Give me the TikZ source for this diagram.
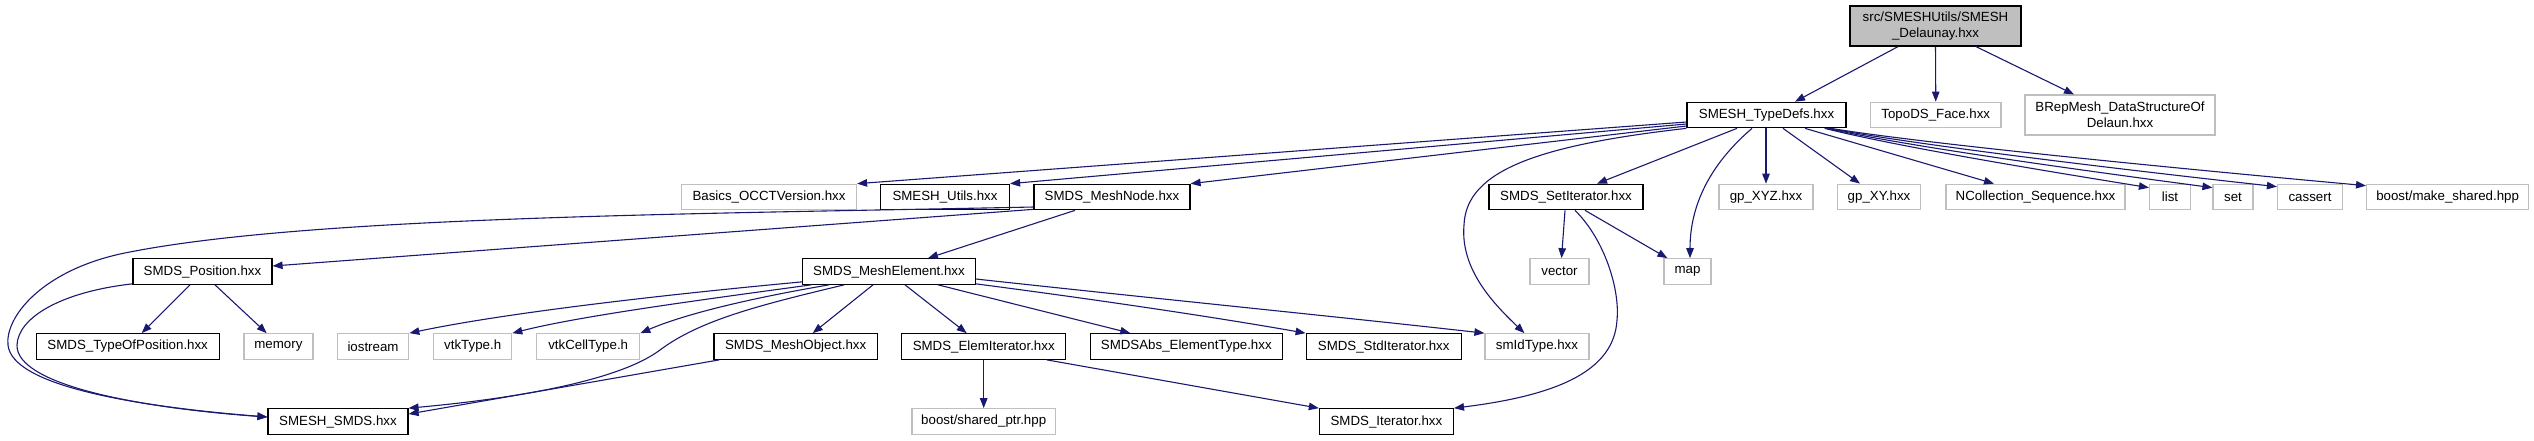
\documentclass[tikz,border=0pt]{standalone}
\usepackage{fontspec}
\setmainfont{Liberation Sans}
\usetikzlibrary{arrows.meta,calc}
\definecolor{edgec}{HTML}{191970}
\definecolor{greyb}{HTML}{BFBFBF}
\begin{document}
\begin{tikzpicture}[x=1pt,y=-1pt,
  box/.style={draw, rectangle, inner sep=0pt, minimum height=25.5pt, line width=1.2pt,
    font=\fontsize{13.3}{16}\selectfont, align=center},
  doc/.style={box, draw=black},
  ext/.style={box, draw=greyb},
  dep/.style={draw=edgec, line width=1.1pt, -{Triangle[length=10pt,width=7.5pt]}},
]
\useasboundingbox (0,0) rectangle (2534,440);
% row 0
\node[doc, fill=greyb, minimum width=171pt, minimum height=40pt] (root) at (1935.5,26) {src/SMESHUtils/SMESH\\\_Delaunay.hxx};
% row 1
\node[doc, minimum width=159pt] (td) at (1766.5,115) {SMESH\_TypeDefs.hxx};
\node[ext, minimum width=130.5pt] (topo) at (1935.75,115) {TopoDS\_Face.hxx};
\node[ext, minimum width=190pt, minimum height=40pt] (brep) at (2120,115) {BRepMesh\_DataStructureOf\\Delaun.hxx};
% row 2
\node[ext, minimum width=175pt] (basics) at (769,197) {Basics\_OCCTVersion.hxx};
\node[doc, minimum width=129pt] (utils) at (945,197) {SMESH\_Utils.hxx};
\node[doc, minimum width=156pt] (mnode) at (1112,197) {SMDS\_MeshNode.hxx};
\node[doc, minimum width=154pt] (setit) at (1566,197) {SMDS\_SetIterator.hxx};
\node[ext, minimum width=94pt] (xyz) at (1766,197) {gp\_XYZ.hxx};
\node[ext, minimum width=83pt] (xy) at (1879,197) {gp\_XY.hxx};
\node[ext, minimum width=179pt] (ncoll) at (2035.5,197) {NCollection\_Sequence.hxx};
\node[ext, minimum width=41pt] (list) at (2170,197) {list};
\node[ext, minimum width=40pt] (set) at (2233,197) {set};
\node[ext, minimum width=65pt] (cassert) at (2310,197) {cassert};
\node[ext, minimum width=162pt] (mkshared) at (2447.6,197) {boost/make\_shared.hpp};
% row 3
\node[doc, minimum width=139pt] (pos) at (202.5,271.5) {SMDS\_Position.hxx};
\node[doc, minimum width=172.5pt] (elem) at (889,271.5) {SMDS\_MeshElement.hxx};
\node[ext, minimum width=59pt] (vector) at (1559.5,271.5) {vector};
\node[ext, minimum width=47pt] (map) at (1687.5,271.5) {map};
% row 4
\node[doc, minimum width=183pt] (typepos) at (127.7,346.5) {SMDS\_TypeOfPosition.hxx};
\node[ext, minimum width=69pt] (memory) at (278.4,346.5) {memory};
\node[ext, minimum width=71.5pt] (iostream) at (373,346.5) {iostream};
\node[ext, minimum width=78pt] (vtktype) at (472.7,346.5) {vtkType.h};
\node[ext, minimum width=103pt] (vtkcell) at (588.2,346.5) {vtkCellType.h};
\node[doc, minimum width=163.5pt] (mobj) at (795.7,346.5) {SMDS\_MeshObject.hxx};
\node[doc, minimum width=164pt] (elemit) at (983.7,346.5) {SMDS\_ElemIterator.hxx};
\node[doc, minimum width=192pt] (abs) at (1186.3,346.5) {SMDSAbs\_ElementType.hxx};
\node[doc, minimum width=155pt] (stdit) at (1383.7,346.5) {SMDS\_StdIterator.hxx};
\node[ext, minimum width=104pt] (smid) at (1537,346.5) {smIdType.hxx};
% row 5
\node[doc, minimum width=140pt] (smds) at (338,421.5) {SMESH\_SMDS.hxx};
\node[ext, minimum width=143.5pt] (shptr) at (983.7,421.5) {boost/shared\_ptr.hpp};
\node[doc, minimum width=134pt] (iter) at (1386.4,421.5) {SMDS\_Iterator.hxx};

% edges from root
\draw[dep] ($(root.south)+(-37.5,0)$) -- ($(td.north)+(28.5,0)$);
\draw[dep] (root.south) -- (topo.north);
\draw[dep] ($(root.south)+(40.5,0)$) -- ($(brep.north)+(-46,0)$);
% edges from SMESH_TypeDefs
\draw[dep] ($(td.west)+(0,7)$) -- (basics.north east);
\draw[dep] ($(td.west)+(0,9)$) -- (utils.north east);
\draw[dep] ($(td.west)+(0,11)$) -- (mnode.north east);
\draw[dep] ($(td.south)+(-29.5,0)$) -- ($(setit.north)+(31,0)$);
\draw[dep] (td.south -| xyz.north) -- (xyz.north);
\draw[dep] ($(td.south)+(16.5,0)$) -- ($(xy.north)+(-19,0)$);
\draw[dep] ($(td.south)+(38.5,0)$) -- ($(ncoll.north)+(-41.5,0)$);
\draw[dep] ($(td.south east)+(-22,0)$) .. controls +(80,20) and +(-80,-13) .. ($(list.north west)+(0,4)$);
\draw[dep] ($(td.south east)+(-20,0)$) .. controls +(90,20) and +(-90,-12) .. ($(set.north west)+(0,4)$);
\draw[dep] ($(td.south east)+(-18,0)$) .. controls +(100,19) and +(-100,-11) .. ($(cassert.north west)+(0,3)$);
\draw[dep] ($(td.south east)+(-16,0)$) .. controls +(110,18) and +(-110,-10) .. ($(mkshared.north west)+(0,2)$);
\draw[dep] ($(td.south)+(-14.5,0)$) .. controls (1715,160) and (1690,200) .. ($(map.north)+(2.5,0)$);
\draw[dep] (td.south west) .. controls (1540,145) and (1466,170) .. (1464,225)
  .. controls (1460,270) and (1495,305) .. ($(smid.north west)+(40,0)$);
% edges from SMDS_SetIterator
\draw[dep] ($(setit.south)+(-1,0)$) -- ($(vector.north)+(2,0)$);
\draw[dep] ($(setit.south)+(19,0)$) -- ($(map.north west)+(4,0)$);
\draw[dep] ($(setit.south)+(9,0)$) .. controls (1605,240) and (1620,290) .. (1617,320)
  .. controls (1614,370) and (1560,395) .. (iter.north east);
% edges from SMDS_MeshNode
\draw[dep] ($(mnode.south)+(-37,0)$) -- ($(elem.north)+(39,0)$);
\draw[dep] ($(mnode.south west)+(0,-1)$) -- ($(pos.east)+(0,-5.5)$);
\draw[dep] ($(mnode.west)+(0,10)$) .. controls (700,214) and (300,216) .. (120,254)
  .. controls (40,272) and (5,318) .. (8,345)
  .. controls (12,385) and (130,406) .. ($(smds.west)+(0,-4.5)$);
% edges from SMDS_Position
\draw[dep] ($(pos.south west)+(0,-1)$) .. controls (60,292) and (18,318) .. (17,345)
  .. controls (16,385) and (140,408) .. ($(smds.west)+(0,-4.5)$);
\draw[dep] ($(pos.south)+(-12.5,0)$) -- ($(typepos.north)+(14,0)$);
\draw[dep] ($(pos.south)+(12.5,0)$) -- ($(memory.north)+(-11.7,0)$);
% edges from SMDS_MeshElement
\draw[dep] ($(elem.south west)+(0,-3)$) .. controls (650,296) and (500,314) .. (iostream.north east);
\draw[dep] ($(elem.south west)+(9,0)$) .. controls (700,300) and (580,316) .. (vtktype.north east);
\draw[dep] ($(elem.south west)+(27,0)$) .. controls (740,300) and (680,316) .. (vtkcell.north east);
\draw[dep] ($(elem.south west)+(42,0)$) .. controls (760,305) and (700,320) .. (660,350)
  .. controls (620,380) and (520,398) .. (smds.north east);
\draw[dep] ($(elem.south)+(-16,0)$) -- ($(mobj.north)+(17,0)$);
\draw[dep] ($(elem.south)+(16,0)$) -- ($(elemit.north)+(-17,0)$);
\draw[dep] ($(elem.south)+(49,0)$) -- ($(abs.north)+(-56,0)$);
\draw[dep] ($(elem.south east)+(0,-1)$) .. controls (1100,300) and (1220,318) .. (stdit.north west);
\draw[dep] ($(elem.east)+(0,7.5)$) .. controls (1150,298) and (1350,318) .. (smid.north west);
% edge from SMDS_MeshObject
\draw[dep] ($(mobj.south west)+(6,0)$) -- ($(smds.east)+(0,-7.5)$);
% edges from SMDS_ElemIterator
\draw[dep] (elemit.south) -- (shptr.north);
\draw[dep] ($(elemit.south)+(63,0)$) -- (iter.north west);
\end{tikzpicture}
\end{document}
